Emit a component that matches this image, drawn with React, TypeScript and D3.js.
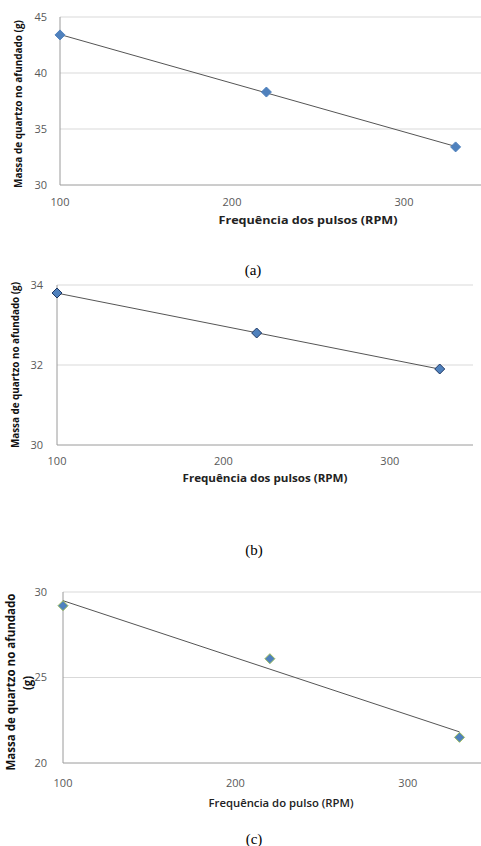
import React from 'react';
import * as d3 from 'd3';

// frequência dos pulsos (RPM)
const freqA = [100, 220, 330];
const freqB = [100, 220, 330];
const freqC = [100, 220, 330];

// massa de quartzo no afundado (g)
const massaA = [43.4, 38.3, 33.4];
const massaB = [33.8, 32.8, 31.9];
const massaC = [29.2, 26.1, 21.5];

const xTicks = [100, 200, 300];
const yTicksA = [30, 35, 40, 45];
const yTicksB = [30, 32, 34];
const yTicksC = [20, 25, 30];

const yTitle = 'Massa de quartzo no afundado (g)';
const xTitleAB = 'Frequência dos pulsos (RPM)';
const xTitleC = 'Frequência do pulso (RPM)';

const font = "'Open Sans', 'Liberation Sans', sans-serif";

// least squares trendline
function fit(xs, ys) {
  const mx = d3.mean(xs);
  const my = d3.mean(ys);
  const sxy = d3.sum(xs, (x, i) => (x - mx) * (ys[i] - my));
  const sxx = d3.sum(xs, (x) => (x - mx) ** 2);
  const b = sxy / sxx;
  return (x) => my + b * (x - mx);
}

function diamond(cx, cy, r) {
  return `M${cx},${cy - r}L${cx + r},${cy}L${cx},${cy + r}L${cx - r},${cy}Z`;
}

const Panel = ({ xs, ys, yTicks, box, markerFill, markerStroke, yTitleCfg, xTitleCfg, tickY, tickRight }) => {
  const x = d3.scaleLinear().domain([100, 350]).range([box.left, box.right]);
  const y = d3.scaleLinear().domain([yTicks[0], yTicks[yTicks.length - 1]]).range([box.bottom, box.top]);
  const f = fit(xs, ys);
  const line = d3.line().x((d) => x(d)).y((d) => y(f(d)));
  const x0 = xs[0];
  const x1 = xs[xs.length - 1];

  return (
    <g>
      {yTicks.slice(1).map((t) => (
        <line key={t} x1={box.left} x2={box.right} y1={y(t)} y2={y(t)} stroke="#d9d9d9" strokeWidth={1} />
      ))}
      <line x1={box.left} x2={box.left} y1={box.top} y2={box.bottom} stroke="#9a9a9a" />
      <line x1={box.left} x2={box.right} y1={box.bottom} y2={box.bottom} stroke="#9a9a9a" />
      {yTicks.map((t) => (
        <text key={t} x={tickRight} y={y(t)} dy="0.35em" textAnchor="end" fontSize={11} fill="#595959" fontFamily={font}>
          {t}
        </text>
      ))}
      {xTicks.map((t) => (
        <text key={t} x={x(t)} y={tickY} dy="0.35em" textAnchor="middle" fontSize={11} fill="#595959" fontFamily={font}>
          {t}
        </text>
      ))}
      <path d={line([x0, x1])} fill="none" stroke="#555" strokeWidth={1} />
      {xs.map((v, i) => (
        <path key={v} d={diamond(x(v), y(ys[i]), 5)} fill={markerFill} stroke={markerStroke} strokeWidth={1} />
      ))}
      {yTitleCfg.lines.map((l, i) => (
        <text
          key={i}
          transform={`translate(${l.cx},${l.cy}) rotate(-90)`}
          dy="0.35em"
          textAnchor="middle"
          fontSize={yTitleCfg.size}
          fontWeight="bold"
          fill="#111"
          fontFamily={font}
          textLength={l.len}
          lengthAdjust="spacingAndGlyphs"
        >
          {l.text}
        </text>
      ))}
      <text
        x={xTitleCfg.cx}
        y={xTitleCfg.cy}
        dy="0.35em"
        textAnchor="middle"
        fontSize={xTitleCfg.size}
        fontWeight={xTitleCfg.weight}
        fill="#222"
        fontFamily={font}
        textLength={xTitleCfg.len}
        lengthAdjust="spacingAndGlyphs"
      >
        {xTitleCfg.text}
      </text>
    </g>
  );
};

const Caption = ({ x, y, text }) => (
  <text x={x} y={y} textAnchor="middle" fontSize={15} fontFamily="'Liberation Serif', 'Times New Roman', serif" fill="#000">
    {text}
  </text>
);

export default function App() {
  return (
    <svg width={481} height={846} style={{ position: 'absolute', left: 0, top: 0, background: '#fff' }}>
      <Panel
        xs={freqA}
        ys={massaA}
        yTicks={yTicksA}
        box={{ left: 60, right: 490, top: 17, bottom: 185 }}
        markerFill="#4f81bd"
        markerStroke="#4f81bd"
        tickY={202}
        tickRight={47}
        yTitleCfg={{ size: 10.5, lines: [{ text: yTitle, cx: 18, cy: 104, len: 168 }] }}
        xTitleCfg={{ text: xTitleAB, cx: 308, cy: 220, len: 179, size: 10.5, weight: 'bold' }}
      />
      <Caption x={253} y={275} text="(a)" />

      <Panel
        xs={freqB}
        ys={massaB}
        yTicks={yTicksB}
        box={{ left: 57, right: 473, top: 285, bottom: 445 }}
        markerFill="#4f81bd"
        markerStroke="#1f3864"
        tickY={461}
        tickRight={43}
        yTitleCfg={{ size: 10, lines: [{ text: yTitle, cx: 15, cy: 365, len: 166 }] }}
        xTitleCfg={{ text: xTitleAB, cx: 265, cy: 478, len: 165, size: 10, weight: 'bold' }}
      />
      <Caption x={254} y={555} text="(b)" />

      <Panel
        xs={freqC}
        ys={massaC}
        yTicks={yTicksC}
        box={{ left: 63, right: 494, top: 592, bottom: 763 }}
        markerFill="#4f81bd"
        markerStroke="#9bbb59"
        tickY={783}
        tickRight={47}
        yTitleCfg={{
          size: 11.5,
          lines: [
            { text: 'Massa de quartzo no afundado', cx: 11, cy: 682, len: 177 },
            { text: '(g)', cx: 28, cy: 683, len: 14 },
          ],
        }}
        xTitleCfg={{ text: xTitleC, cx: 281, cy: 803, len: 145, size: 10.5, weight: 600 }}
      />
      <Caption x={254} y={844} text="(c)" />
    </svg>
  );
}
